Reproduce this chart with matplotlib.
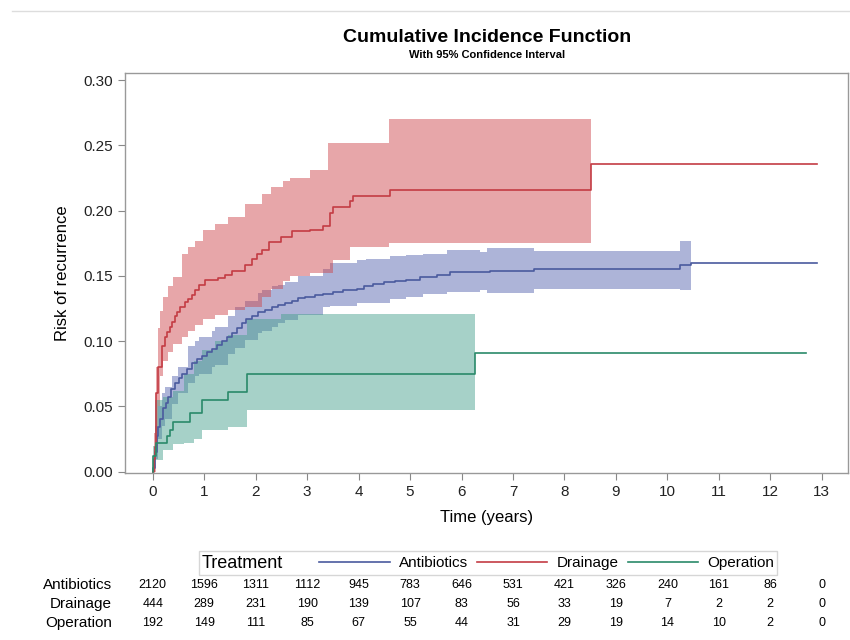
import matplotlib
matplotlib.use("Agg")
import matplotlib.pyplot as plt
from matplotlib.lines import Line2D
from matplotlib.offsetbox import HPacker

plt.rcParams['font.family'] = ['Liberation Sans', 'DejaVu Sans']

# --- data (step functions) ---
treatments = ['Antibiotics', 'Drainage', 'Operation']

abx_t = [0, 0.01, 0.04, 0.08, 0.11, 0.14, 0.2, 0.25, 0.3, 0.36, 0.43, 0.5, 0.56, 0.66, 0.76,
         0.85, 0.95, 1.05, 1.15, 1.25, 1.34, 1.44, 1.54, 1.63, 1.73, 1.82, 1.92, 2.05, 2.18, 2.31,
         2.44, 2.57, 2.7, 2.83, 2.96, 3.15, 3.31, 3.5, 3.7, 3.96, 4.1, 4.28, 4.5, 4.7, 4.93,
         5.2, 5.52, 5.78, 6.55, 7.4, 10.25, 10.45, 12.9]
abx_v = [0, 0.003, 0.015, 0.027, 0.034, 0.04, 0.049, 0.053, 0.057, 0.063, 0.068, 0.072, 0.075, 0.079, 0.083,
         0.086, 0.089, 0.092, 0.094, 0.097, 0.1, 0.103, 0.106, 0.11, 0.114, 0.117, 0.119, 0.122, 0.124, 0.126,
         0.128, 0.129, 0.131, 0.133, 0.134, 0.135, 0.136, 0.138, 0.139, 0.14, 0.142, 0.144, 0.145, 0.146, 0.147,
         0.149, 0.151, 0.153, 0.154, 0.155, 0.158, 0.16, 0.16]
abx_ci_t = [0.01, 0.04, 0.1, 0.17, 0.23, 0.37, 0.49, 0.69, 0.82, 0.89, 1.15, 1.21, 1.47, 1.6, 1.79,
            2.05, 2.12, 2.31, 2.44, 2.57, 2.83, 3.31, 3.44, 3.96, 4.15, 4.61, 4.93, 5.26, 5.71, 6.36,
            6.5, 7.4, 10.25, 10.45]
abx_hi = [0.01, 0.035, 0.05, 0.06, 0.065, 0.073, 0.08, 0.096, 0.1, 0.103, 0.108, 0.111, 0.119, 0.126, 0.131,
          0.137, 0.139, 0.142, 0.143, 0.145, 0.15, 0.155, 0.16, 0.162, 0.163, 0.165, 0.166, 0.167, 0.17, 0.168,
          0.171, 0.169, 0.177, 0.177]
abx_lo = [0.0, 0.01, 0.025, 0.035, 0.04, 0.052, 0.06, 0.068, 0.073, 0.075, 0.08, 0.082, 0.09, 0.095, 0.101,
          0.106, 0.108, 0.111, 0.114, 0.116, 0.12, 0.126, 0.127, 0.129, 0.129, 0.132, 0.134, 0.136, 0.138, 0.139,
          0.137, 0.14, 0.139, 0.139]

drn_t = [0, 0.02, 0.04, 0.07, 0.11, 0.17, 0.23, 0.28, 0.33, 0.38, 0.43, 0.48, 0.53, 0.62, 0.69,
         0.76, 0.83, 0.89, 1.01, 1.27, 1.4, 1.54, 1.79, 1.92, 2.02, 2.12, 2.25, 2.5, 2.7, 3.05,
         3.31, 3.44, 3.51, 3.83, 3.9, 4.61, 8.52, 12.9]
drn_v = [0, 0.01, 0.019, 0.06, 0.08, 0.096, 0.103, 0.107, 0.111, 0.115, 0.119, 0.122, 0.126, 0.13, 0.132,
         0.135, 0.139, 0.143, 0.147, 0.148, 0.151, 0.154, 0.158, 0.163, 0.167, 0.17, 0.176, 0.18, 0.184, 0.185,
         0.188, 0.198, 0.203, 0.207, 0.211, 0.216, 0.236, 0.236]
drn_ci_t = [0.02, 0.06, 0.1, 0.14, 0.2, 0.3, 0.4, 0.56, 0.69, 0.82, 0.98, 1.2, 1.47, 1.79, 2.12,
            2.3, 2.53, 2.66, 3.05, 3.4, 3.51, 3.83, 4.6, 8.52]
drn_hi = [0.03, 0.08, 0.11, 0.123, 0.134, 0.142, 0.149, 0.167, 0.172, 0.177, 0.185, 0.19, 0.195, 0.205, 0.213,
          0.218, 0.223, 0.225, 0.231, 0.252, 0.252, 0.252, 0.27, 0.27]
drn_lo = [0.0, 0.02, 0.05, 0.073, 0.085, 0.092, 0.098, 0.103, 0.108, 0.112, 0.117, 0.12, 0.124, 0.126, 0.134,
          0.14, 0.146, 0.15, 0.152, 0.152, 0.162, 0.172, 0.175, 0.175]

opr_t = [0, 0.01, 0.07, 0.27, 0.33, 0.4, 0.72, 0.95, 1.47, 1.83, 6.27, 12.7]
opr_v = [0, 0.012, 0.022, 0.027, 0.032, 0.038, 0.045, 0.055, 0.061, 0.075, 0.091, 0.091]
opr_ci_t = [0.01, 0.04, 0.2, 0.4, 0.6, 0.8, 0.95, 1.2, 1.47, 1.83, 2.5, 6.27]
opr_hi = [0.02, 0.055, 0.057, 0.062, 0.075, 0.085, 0.093, 0.1, 0.105, 0.117, 0.121, 0.121]
opr_lo = [0.0, 0.009, 0.017, 0.021, 0.022, 0.025, 0.032, 0.032, 0.034, 0.047, 0.047, 0.047]

# numbers at risk
risk_times = list(range(0, 14))
risk_abx = [2120, 1596, 1311, 1112, 945, 783, 646, 531, 421, 326, 240, 161, 86, 0]
risk_drn = [444, 289, 231, 190, 139, 107, 83, 56, 33, 19, 7, 2, 2, 0]
risk_opr = [192, 149, 111, 85, 67, 55, 44, 31, 29, 19, 14, 10, 2, 0]

line_cols = ['#4a5a9e', '#c43c44', '#2a8a6a']
band_cols = ['#5564af', '#cd464b', '#46a08c']

fig = plt.figure(figsize=(8.5, 6.4), dpi=100)
ax = fig.add_axes([125/850, 1 - 473/640, 723/850, 400/640])

series = [(abx_t, abx_v, abx_ci_t, abx_lo, abx_hi),
          (drn_t, drn_v, drn_ci_t, drn_lo, drn_hi),
          (opr_t, opr_v, opr_ci_t, opr_lo, opr_hi)]
for i, (t, v, ct, lo, hi) in enumerate(series):
    ax.fill_between(ct, lo, hi, step='post', color=band_cols[i], alpha=0.48, lw=0)
for i, (t, v, ct, lo, hi) in enumerate(series):
    ax.plot(t, v, drawstyle='steps-post', color=line_cols[i], lw=1.2, label=treatments[i])

ax.set_xlim(-0.54, 13.51)
ax.set_ylim(-0.001, 0.3054)
ax.set_xticks(range(0, 14))
ax.set_yticks([0, 0.05, 0.10, 0.15, 0.20, 0.25, 0.30])
ax.set_yticklabels(['0.00', '0.05', '0.10', '0.15', '0.20', '0.25', '0.30'])
ax.tick_params(labelsize=11, length=5, width=0.8, colors='#888888', labelcolor='#222222')
for s in ax.spines.values():
    s.set_color('#999999')
    s.set_linewidth(1.0)
ax.set_xlabel('Time (years)', fontsize=12, labelpad=8)
ax.set_ylabel('Risk of recurrence', fontsize=12, labelpad=10)

fig.text(487/850, 1 - 37/640, 'Cumulative Incidence Function', ha='center', va='center',
         fontsize=14, fontweight='bold')
fig.text(487/850, 1 - 55/640, 'With 95% Confidence Interval', ha='center', va='center',
         fontsize=8, fontweight='bold')
fig.add_artist(Line2D([12/850, 1], [1 - 11/640, 1 - 11/640], color='#dddddd', lw=1))

# legend with title on the left
handles = [Line2D([], [], color=c, lw=1.2) for c in line_cols]
leg = fig.legend(handles, treatments, title='Treatment', ncol=3, loc='center',
                 bbox_to_anchor=(488/850, 1 - 563/640), fontsize=11, title_fontsize=13,
                 frameon=True, fancybox=False, edgecolor='#cccccc', handlelength=4.6,
                 columnspacing=0.6, handletextpad=0.6, borderpad=0.2)
leg.get_frame().set_linewidth(1.0)
box = leg._legend_box
box._children = [HPacker(pad=0, sep=26, align='center',
                         children=[leg._legend_title_box, leg._legend_handle_box])]

# at-risk table
rows = [risk_abx, risk_drn, risk_opr]
row_y = [585, 604, 623]
for name, vals, y in zip(treatments, rows, row_y):
    fig.text(112/850, 1 - y/640, name, ha='right', va='center', fontsize=11)
    for tt, n in zip(risk_times, vals):
        xf = ax.transData.transform((tt, 0))[0] / fig.bbox.width
        fig.text(xf, 1 - y/640, str(n), ha='center', va='center', fontsize=9)

fig.savefig('out.png', dpi=100)
